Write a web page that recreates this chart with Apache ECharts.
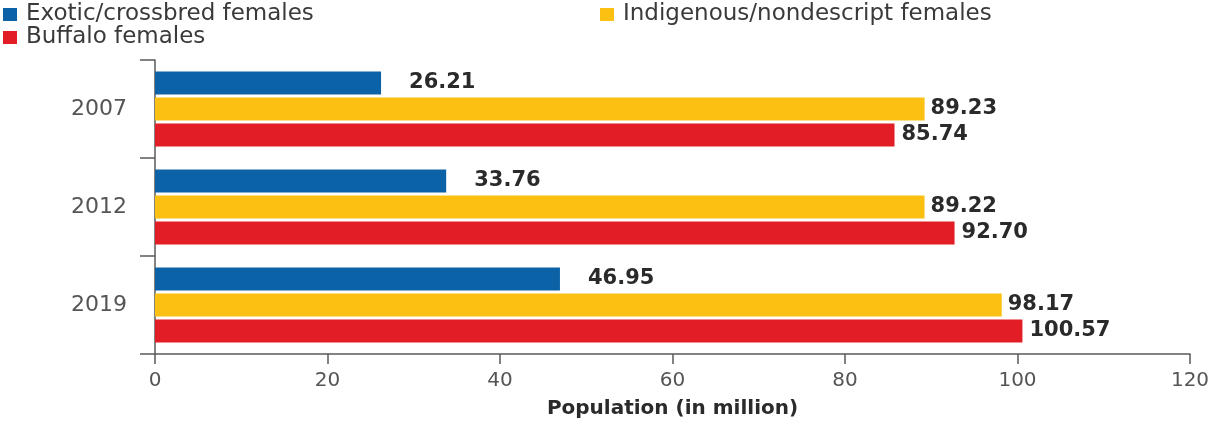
<!DOCTYPE html>
<html>
<head>
<meta charset="utf-8">
<script src="https://cdn.jsdelivr.net/npm/echarts@6/dist/echarts.min.js"></script>
<style>
  html, body { margin: 0; padding: 0; background: #fff; }
  #chart { width: 1217px; height: 421px; }
</style>
</head>
<body>
<div id="chart"></div>
<script>
// data
const years = ["2007", "2012", "2019"];
const seriesNames = [
  "Exotic/crossbred females",
  "Indigenous/nondescript females",
  "Buffalo females",
];
const exoticValues = [26.21, 33.76, 46.95];
const indigenousValues = [89.23, 89.22, 98.17];
const buffaloValues = [85.74, 92.7, 100.57];
const xTicks = [0, 20, 40, 60, 80, 100, 120];

const colors = ["#0c62a6", "#fcc012", "#e31d25"];
const fontName = "DejaVu Sans";

const chart = echarts.init(document.getElementById("chart"));

function barSeries(name, values, color, dist) {
  return {
    name: name,
    type: "bar",
    data: values,
    barWidth: 23,
    barGap: "13%",
    itemStyle: { color: color },
    label: {
      show: true,
      position: "right",
      distance: dist,
      color: "#2a2a2a",
      fontFamily: fontName,
      fontWeight: "bold",
      fontSize: 21,
      formatter: (p) => p.value.toFixed(2),
    },
  };
}

function legendItem(name, left, top) {
  return {
    data: [name],
    left: left,
    top: top,
    icon: "rect",
    itemWidth: 14,
    itemHeight: 13,
    itemGap: 8,
    padding: 0,
    textStyle: {
      color: "#3a3a3a",
      fontFamily: fontName,
      fontSize: 23,
      padding: [0, 0, 0, 4],
    },
  };
}

const option = {
  animation: false,
  color: colors,
  legend: [
    legendItem(seriesNames[0], 3, 3),
    legendItem(seriesNames[1], 600, 3),
    legendItem(seriesNames[2], 3, 26),
  ],
  grid: {
    left: 155,
    right: 27,
    top: 60,
    bottom: 67,
    containLabel: false,
    outerBoundsMode: "none",
  },
  xAxis: {
    type: "value",
    min: 0,
    max: 120,
    interval: 20,
    name: "Population (in million)",
    nameLocation: "middle",
    nameGap: 45,
    nameTextStyle: {
      color: "#2a2a2a",
      fontFamily: fontName,
      fontWeight: "bold",
      fontSize: 20,
    },
    splitLine: { show: false },
    axisLine: { show: true, lineStyle: { color: "#5a5a5a", width: 1.5 } },
    axisTick: { show: true, length: 10, lineStyle: { color: "#5a5a5a", width: 1.5 } },
    axisLabel: {
      margin: 17,
      color: "#555",
      fontFamily: fontName,
      fontSize: 20,
      formatter: (v) => (xTicks.indexOf(v) >= 0 ? String(v) : ""),
    },
  },
  yAxis: {
    type: "category",
    data: years,
    inverse: true,
    axisLine: { show: true, lineStyle: { color: "#5a5a5a", width: 1.5 } },
    axisTick: { show: true, length: 15, alignWithLabel: false, lineStyle: { color: "#5a5a5a", width: 1.5 } },
    axisLabel: {
      margin: 28,
      color: "#555",
      fontFamily: fontName,
      fontSize: 22,
    },
  },
  series: [
    barSeries(seriesNames[0], exoticValues, colors[0], 28),
    barSeries(seriesNames[1], indigenousValues, colors[1], 6),
    barSeries(seriesNames[2], buffaloValues, colors[2], 7),
  ],
};

chart.setOption(option);
</script>
</body>
</html>
